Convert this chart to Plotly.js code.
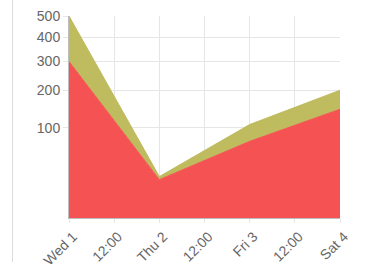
<!DOCTYPE html>
<html>
<head>
<meta charset="utf-8">
<script src="https://cdn.plot.ly/plotly-3.0.1.min.js"></script>
<style>
  html, body { margin: 0; padding: 0; background: #fff; }
  #wrap { position: relative; width: 372px; height: 267px; overflow: hidden; }
  #chart { width: 372px; height: 267px; }
  #edge { position: absolute; left: 12px; top: 0; width: 1px; height: 262px; background: #dcdcdc; }
</style>
</head>
<body>
<div id="wrap">
  <div id="chart"></div>
  <div id="edge"></div>
</div>
<script>
// Data
const categories = ['2017-03-01 00:00', '2017-03-02 00:00', '2017-03-03 00:00', '2017-03-04 00:00'];
const redValues = [300, 18, 72, 145];
const oliveValues = [200, 3, 35, 55];
const tickDates = ['2017-03-01 00:00', '2017-03-01 12:00', '2017-03-02 00:00', '2017-03-02 12:00',
                   '2017-03-03 00:00', '2017-03-03 12:00', '2017-03-04 00:00'];
const tickLabels = ['Wed 1', '12:00', 'Thu 2', '12:00', 'Fri 3', '12:00', 'Sat 4'];
const yTickValues = [100, 200, 300, 400, 500];
const yMax = 500;

// square-root scale: stack in value space, then map through sqrt
const redTop = redValues.map(v => Math.sqrt(v));
const oliveTop = oliveValues.map((v, i) => Math.sqrt(v + redValues[i]));

const redColor = '#f55353';
const oliveColor = '#bfbb5f';

const traces = [
  {
    x: categories, y: redTop, type: 'scatter', mode: 'lines',
    fill: 'tozeroy', fillcolor: redColor,
    line: { color: redColor, width: 1 },
    hoverinfo: 'skip'
  },
  {
    x: categories, y: oliveTop, type: 'scatter', mode: 'lines',
    fill: 'tonexty', fillcolor: oliveColor,
    line: { color: oliveColor, width: 1 },
    hoverinfo: 'skip'
  }
];

const layout = {
  width: 372, height: 267,
  margin: { l: 69, r: 32, t: 16, b: 49 },
  paper_bgcolor: '#fff', plot_bgcolor: '#fff',
  showlegend: false,
  font: { family: 'Liberation Sans, Arial, sans-serif', size: 13, color: '#666' },
  xaxis: {
    type: 'date',
    range: [categories[0], categories[categories.length - 1]],
    tickmode: 'array', tickvals: tickDates, ticktext: tickLabels,
    tickangle: -45,
    ticklabelshift: 4,
    showgrid: true, gridcolor: '#e6e6e6', gridwidth: 1,
    zeroline: false,
    showline: true, linecolor: '#bdbdbd', linewidth: 1,
    ticks: 'outside', ticklen: 4, tickcolor: '#e6e6e6',
    tickfont: { size: 14, color: '#666' }
  },
  yaxis: {
    range: [0, Math.sqrt(yMax)],
    tickmode: 'array',
    tickvals: yTickValues.map(v => Math.sqrt(v)),
    ticktext: yTickValues.map(String),
    showgrid: true, gridcolor: '#e6e6e6', gridwidth: 1,
    zeroline: false,
    showline: true, linecolor: '#bdbdbd', linewidth: 1,
    ticks: 'outside', ticklen: 5, tickcolor: '#e6e6e6',
    tickfont: { size: 14, color: '#666' }
  }
};

Plotly.newPlot('chart', traces, layout, { staticPlot: true, displayModeBar: false });
</script>
</body>
</html>
